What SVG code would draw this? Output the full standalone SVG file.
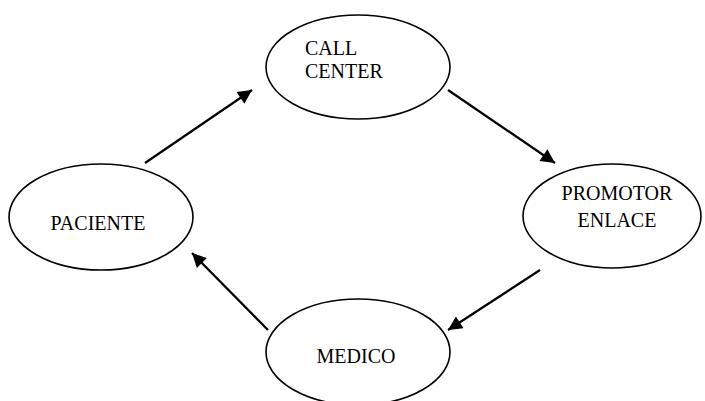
<svg xmlns="http://www.w3.org/2000/svg" width="705" height="401" viewBox="0 0 705 401">
<defs>
<style>
.node ellipse{fill:none;stroke:#000;stroke-width:1.6}
.node text{font-family:"Liberation Serif","Times New Roman",serif;font-size:20px;fill:#000}
.conn line{stroke:#000;stroke-width:2.2}
</style>
<marker id="ah" viewBox="0 0 10 10" refX="10" refY="5" markerWidth="16" markerHeight="14" markerUnits="userSpaceOnUse" orient="auto">
<path d="M0,0 L10,5 L0,10 z" fill="#000"/>
</marker>
</defs>
<rect width="705" height="401" fill="#fff"/>
<g id="callcenter" class="node">
<ellipse cx="358" cy="67" rx="92" ry="52"/>
<text x="305" y="55">CALL</text>
<text x="305" y="78">CENTER</text>
</g>
<g id="promotor" class="node">
<ellipse cx="612" cy="216" rx="89" ry="52"/>
<text x="617" y="200" text-anchor="middle">PROMOTOR</text>
<text x="617" y="227" text-anchor="middle">ENLACE</text>
</g>
<g id="paciente" class="node">
<ellipse cx="101" cy="217" rx="92" ry="53"/>
<text x="98" y="230" text-anchor="middle">PACIENTE</text>
</g>
<g id="medico" class="node">
<ellipse cx="358" cy="352" rx="92" ry="53"/>
<text x="356" y="363" text-anchor="middle">MEDICO</text>
</g>
<g id="connectors" class="conn">
<line x1="145" y1="163" x2="252" y2="90" marker-end="url(#ah)"/>
<line x1="448" y1="90" x2="555" y2="163" marker-end="url(#ah)"/>
<line x1="540" y1="270" x2="448" y2="330" marker-end="url(#ah)"/>
<line x1="268" y1="330" x2="192" y2="253" marker-end="url(#ah)"/>
</g>
</svg>
